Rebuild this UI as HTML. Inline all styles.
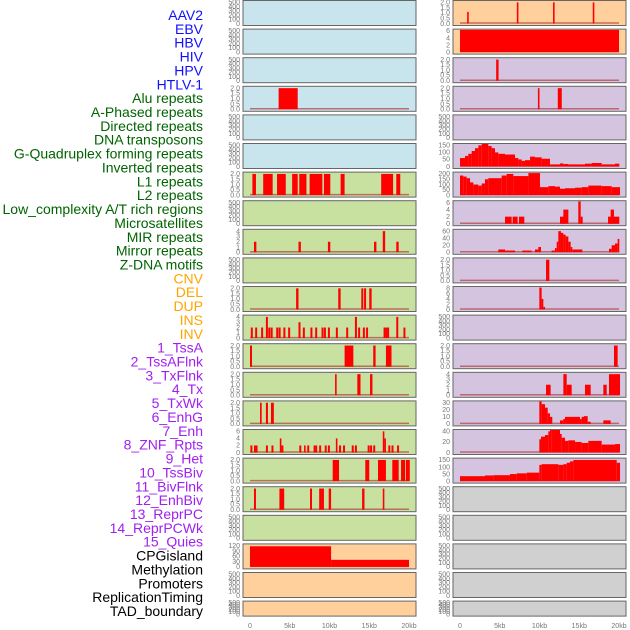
<!DOCTYPE html>
<html><head><meta charset="utf-8"><style>
body{margin:0;background:#fff;width:630px;height:630px;overflow:hidden}
svg{display:block;font-family:"Liberation Sans",sans-serif}
</style></head><body>
<svg id="chart" width="630" height="630"></svg>
<script>
const labels=["AAV2","EBV","HBV","HIV","HPV","HTLV-1","Alu repeats","A-Phased repeats","Directed repeats","DNA transposons","G-Quadruplex forming repeats","Inverted repeats","L1 repeats","L2 repeats","Low_complexity A/T rich regions","Microsatellites","MIR repeats","Mirror repeats","Z-DNA motifs","CNV","DEL","DUP","INS","INV","1_TssA","2_TssAFlnk","3_TxFlnk","4_Tx","5_TxWk","6_EnhG","7_Enh","8_ZNF_Rpts","9_Het","10_TssBiv","11_BivFlnk","12_EnhBiv","13_ReprPC","14_ReprPCWk","15_Quies","CPGisland","Methylation","Promoters","ReplicationTiming","TAD_boundary"];
const labelColors=["#1010ff","#1010ff","#1010ff","#1010ff","#1010ff","#1010ff","#006400","#006400","#006400","#006400","#006400","#006400","#006400","#006400","#006400","#006400","#006400","#006400","#006400","#ffa500","#ffa500","#ffa500","#ffa500","#ffa500","#a020f0","#a020f0","#a020f0","#a020f0","#a020f0","#a020f0","#a020f0","#a020f0","#a020f0","#a020f0","#a020f0","#a020f0","#a020f0","#a020f0","#a020f0","#000","#000","#000","#000","#000"];
const xTicks=[0,5,10,15,20];
const xTickLabels=["0","5kb","10kb","15kb","20kb"];
const T500=[0,100,200,300,400,500];
const T2=[0,0.5,1,1.5,2];
const leftBg=["#c8e4ec","#c8e4ec","#c8e4ec","#c8e4ec","#c8e4ec","#c8e4ec","#c8e0a0","#c8e0a0","#c8e0a0","#c8e0a0","#c8e0a0","#c8e0a0","#c8e0a0","#c8e0a0","#c8e0a0","#c8e0a0","#c8e0a0","#c8e0a0","#c8e0a0","#ffd09c","#ffd09c","#ffd09c"];
const rightBg=["#ffd09c","#ffd09c","#d4c4e0","#d4c4e0","#d4c4e0","#d4c4e0","#d4c4e0","#d4c4e0","#d4c4e0","#d4c4e0","#d4c4e0","#d4c4e0","#d4c4e0","#d4c4e0","#d4c4e0","#d4c4e0","#d4c4e0","#d0d0d0","#d0d0d0","#d0d0d0","#d0d0d0","#d0d0d0"];
const leftTicks=[T500,T500,T500,T2,T500,T500,T2,T500,[0,1,2,3,4],T500,T2,[0,1,2,3,4],T2,T2,T2,[0,2,4,6],T2,T2,T500,[0,30,60,90,120],T500,T500];
const rightTicks=[T2,[0,2,4,6],T2,T2,T500,[0,50,100,150],[0,50,100,150,200],[0,2,4,6],[0,20,40,60],T2,[0,2,4,6,8],T500,T2,[0,1,2,3,4],[0,10,20,30],[0,20,40],[0,50,100,150],T500,T500,T500,T500,T500];
const leftSegs=[[],[],[],[[3.6,6.0,2]],[],[],
[[0.3,0.75,2],[1.66,2.85,2],[3.4,4.5,2],[5.3,6.0,2],[6.2,7.1,2],[7.5,9.1,2],[9.3,10.1,2],[11.4,11.9,2],[16.5,18.0,2],[18.4,18.9,2]],
[],
[[0.5,0.8,2],[6.1,6.4,2],[9.8,10.1,2],[15.6,15.9,2],[16.7,17.0,4],[18.4,18.7,2]],
[],
[[5.8,6.1,2],[11.1,11.4,2],[14.0,14.25,2],[14.35,14.6,2],[15.0,15.3,2]],
[[0.1,0.35,2],[0.65,0.9,2],[1.4,1.65,2],[2.0,2.25,4],[2.3,2.55,2],[2.6,2.85,2],[3.3,3.55,2],[3.6,3.85,2],[4.2,4.45,2],[4.8,5.05,2],[6.1,6.35,3],[6.65,6.9,2],[7.6,7.85,2],[8.2,8.45,2],[9.0,9.25,2],[9.3,9.55,2],[9.8,10.05,2],[10.8,11.05,2],[12.1,12.35,2],[13.2,13.45,4],[13.6,13.85,2],[14.2,14.45,2],[14.6,14.85,2],[16.8,17.05,2],[17.05,17.3,2],[17.3,17.5,2],[18.4,18.65,4],[19.3,19.55,2]],
[[0,0.25,2],[11.9,13.0,2],[15.5,15.8,2],[17.1,17.8,2]],
[[10.7,10.9,2],[13.5,13.9,2],[15.1,15.4,2]],
[[1.26,1.47,2],[2.0,2.26,2],[2.64,3.0,2]],
[[0.05,0.3,2],[0.5,0.75,2],[0.75,0.95,2],[2.0,2.25,2],[2.7,2.95,2],[3.75,3.95,4],[3.95,4.2,2],[6.2,6.45,2],[6.8,7.0,2],[7.2,7.45,2],[8.0,8.25,2],[8.25,8.45,2],[8.7,8.95,2],[9.4,9.65,2],[9.8,10.05,2],[10.8,11.0,4],[11.2,11.45,2],[11.7,11.95,2],[12.8,13.05,2],[13.2,13.45,2],[14.8,15.05,2],[15.1,15.35,2],[15.5,15.75,2],[16.7,16.9,6],[16.9,17.1,4],[17.4,17.65,2],[17.8,18.05,2],[18.5,18.75,2]],
[[10.4,11.2,2],[14.5,15.0,2],[16.1,17.1,2],[17.9,18.7,2],[19.0,19.5,2],[19.6,20.1,2]],
[[0.5,0.75,2],[3.7,4.3,2],[7.55,7.8,2],[8.7,9.0,2],[9.0,9.3,2],[9.9,10.2,2],[14.1,14.4,2],[16.7,16.9,2]],
[],
[[0,10.2,117],[10.2,20,40]],
[],[]];
const rightSegs=[
[[0.9,1.1,1.1],[7.15,7.35,2],[11.7,11.9,2],[16.7,16.9,2]],
[[0,20,6.3]],
[[4.55,4.85,2]],
[[9.8,10.0,2],[12.3,12.8,2]],
[],
[[0,0.63,60],[0.63,1.05,75],[1.05,1.47,90],[1.47,1.89,110],[1.89,2.31,130],[2.31,2.73,150],[2.73,3.56,160],[3.56,3.98,145],[3.98,4.4,130],[4.4,4.82,100],[4.82,5.66,90],[5.66,6.92,85],[6.92,7.34,60],[7.34,7.76,50],[7.76,8.18,40],[8.18,8.81,45],[8.81,9.43,70],[9.43,10.27,65],[10.27,10.69,55],[10.69,11.32,55],[11.32,11.95,15],[11.95,12.58,15],[12.58,13.0,22],[13.0,13.63,18],[13.63,15.72,15],[15.72,16.56,20],[16.56,17.82,25],[17.82,19.5,15],[19.5,20.04,20]],
[[0,0.42,185],[0.42,0.84,175],[0.84,1.26,160],[1.26,1.68,120],[1.68,2.31,100],[2.31,2.73,90],[2.73,3.14,110],[3.14,3.56,150],[3.56,5.24,160],[5.24,5.87,185],[5.87,6.71,200],[6.71,8.6,180],[8.6,10.06,208],[10.06,11.11,75],[11.11,11.95,85],[11.95,12.58,80],[12.58,13.21,60],[13.21,14.47,65],[14.47,15.3,70],[15.3,16.14,75],[16.14,17.82,90],[17.82,19.08,85],[19.08,20.13,75]],
[[5.66,6.5,2],[6.62,7.25,2],[7.42,8.09,2],[12.58,13.08,2],[13.0,13.63,4],[14.88,15.18,6.3],[15.18,15.43,2],[18.62,19.08,2],[18.95,19.37,4],[19.37,20.04,2]],
[[4.82,5.66,8],[5.66,6.92,5],[7.84,9.01,5],[9.43,9.85,8],[9.85,10.19,15],[11.53,11.95,5],[11.95,12.16,12],[12.16,12.37,30],[12.37,12.7,60],[12.7,13.0,55],[13.0,13.29,50],[13.29,13.63,45],[13.63,13.92,30],[13.92,14.13,15],[14.13,15.39,8],[18.74,19.08,10],[19.08,19.5,20],[19.5,19.83,25],[19.83,20.04,38]],
[[10.82,11.24,2]],
[[9.98,10.27,8.3],[10.27,10.48,4],[10.48,10.69,1]],
[],
[[19.37,19.83,2]],
[[10.82,11.4,2],[13.0,13.42,4],[13.42,14.05,2],[15.72,16.44,2],[18.03,18.45,2],[18.74,20.13,4]],
[[9.98,10.27,33],[10.27,10.69,28],[10.69,11.03,23],[11.03,11.32,15],[11.32,11.61,10],[12.58,13.0,5],[13.0,13.21,7],[13.21,15.09,10],[15.09,15.3,7],[15.3,15.6,10],[15.6,16.06,11],[16.06,16.44,3],[18.03,18.95,5]],
[[9.98,10.19,25],[10.19,10.69,30],[10.69,11.11,33],[11.11,11.32,40],[11.32,11.53,45],[11.53,11.82,55],[11.82,12.58,45],[12.58,12.79,35],[12.79,13.21,28],[13.21,13.63,22],[13.63,14.47,23],[14.47,15.3,20],[15.3,16.14,18],[16.14,17.82,22],[17.82,19.5,15],[19.5,20.13,16]],
[[0,3.14,35],[3.14,4.19,40],[4.19,6.29,42],[6.29,7.13,50],[7.13,8.39,55],[8.39,9.98,60],[9.98,10.27,115],[10.27,12.37,120],[12.37,13.0,115],[13.0,13.42,120],[13.42,13.84,130],[13.84,14.26,140],[14.26,19.71,150],[19.71,20.13,130]],
[],[],[],[],[]];

const NS="http://www.w3.org/2000/svg";
const svg=document.getElementById('chart');
function mk(tag,attrs,parent){const e=document.createElementNS(NS,tag);for(const k in attrs)e.setAttribute(k,attrs[k]);(parent||svg).appendChild(e);return e;}
const rowTop=i=>i*28.6;
const rowH=i=>i===21?15:25;
function fmt(v,ticks){return ticks[ticks.length-1]<=2?v.toFixed(1):String(v);}

labels.forEach((t,i)=>{
  const y=15+i*(611-15)/(labels.length-1)+5;
  const e=mk('text',{x:203,y:y,'text-anchor':'end','font-size':'14',fill:labelColors[i]});
  e.textContent=t;
  
  
});

function drawPanel(col,i,bg,ticks,segs){
  const x0=col===0?243:453, w=173, x0kb=col===0?250:460, kbW=7.95;
  const top=rowTop(i), h=rowH(i);
  const g=mk('g',{});
  
  
  mk('rect',{x:x0,y:top+0.5,width:w,height:h,fill:bg,stroke:'#666','stroke-width':1},g);
  const yMax=ticks[ticks.length-1]*1.04;
  const base=top+h-1.5, span=h-3;
  const yS=v=>base-(v/yMax)*span;
  const xS=kb=>x0kb+kb*kbW;
  ticks.forEach(v=>{
    const t=mk('text',{x:x0-3,y:yS(v)+2.3,'text-anchor':'end','font-size':'7',fill:'#777'},g);
    t.textContent=fmt(v,ticks);
    
    
  });
  if(segs.length){
    mk('line',{x1:xS(0),x2:xS(20),y1:base-0.5,y2:base-0.5,stroke:'#b04040','stroke-width':1.5,'stroke-opacity':0.7},g);
  }
  segs.forEach(s=>{
    const y=Math.max(yS(s[2]),top+1);
    const r=mk('rect',{x:xS(s[0]),y:y,width:Math.max(xS(s[1])-xS(s[0]),1.5),height:base-y,fill:'#ff0000'},g);
    
    
  });
}
for(let i=0;i<22;i++){drawPanel(0,i,leftBg[i],leftTicks[i],leftSegs[i]);drawPanel(1,i,rightBg[i],rightTicks[i],rightSegs[i]);}

[0,1].forEach(col=>{
  const x0kb=col===0?250:460;
  xTicks.forEach((v,j)=>{
    const t=mk('text',{x:x0kb+v*7.95,y:628,'text-anchor':'middle','font-size':'7',fill:'#777'});
    t.textContent=xTickLabels[j];
    
    
  });
});
</script>
</body></html>
